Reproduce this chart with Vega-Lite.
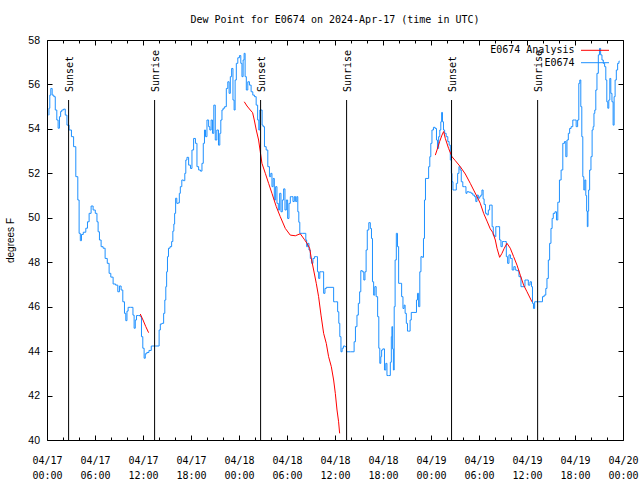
{
"$schema": "https://vega.github.io/schema/vega-lite/v6.json",
"width": 576, "height": 400,
"autosize": {"type": "none"},
"padding": {"left": 47, "top": 40, "right": 17, "bottom": 40},
"title": {"text": "Dew Point for E0674 on 2024-Apr-17 (time in UTC)", "font": "DejaVu Sans Mono", "fontSize": 10, "fontWeight": "normal", "anchor": "middle", "offset": 10, "color": "#000"},
"config": {"view": {"stroke": "#000", "strokeWidth": 1}, "axis": {"domain": false, "grid": false, "tickColor": "#000", "labelColor": "#000", "titleColor": "#000"}},
"datasets": {
"obs": [
{"series":"E0674","hour":0.2,"dewpoint":54.62},{"series":"E0674","hour":0.29,"dewpoint":54.93},{"series":"E0674","hour":0.41,"dewpoint":55.52},{"series":"E0674","hour":0.54,"dewpoint":55.82},{"series":"E0674","hour":0.75,"dewpoint":55.52},{"series":"E0674","hour":0.95,"dewpoint":55.45},{"series":"E0674","hour":1.12,"dewpoint":54.85},{"series":"E0674","hour":1.33,"dewpoint":54.4},{"series":"E0674","hour":1.45,"dewpoint":54.03},{"series":"E0674","hour":1.66,"dewpoint":54.55},{"series":"E0674","hour":1.75,"dewpoint":54.78},{"series":"E0674","hour":1.95,"dewpoint":54.85},{"series":"E0674","hour":2.2,"dewpoint":54.89},{"series":"E0674","hour":2.37,"dewpoint":54.62},{"series":"E0674","hour":2.62,"dewpoint":54.17},{"series":"E0674","hour":2.91,"dewpoint":53.95},{"series":"E0674","hour":3.2,"dewpoint":53.65},{"series":"E0674","hour":3.45,"dewpoint":53.2},{"series":"E0674","hour":3.75,"dewpoint":51.85},{"series":"E0674","hour":3.95,"dewpoint":50.8},{"series":"E0674","hour":4.08,"dewpoint":49.3},{"series":"E0674","hour":4.25,"dewpoint":48.97},{"series":"E0674","hour":4.37,"dewpoint":49.25},{"series":"E0674","hour":4.7,"dewpoint":49.35},{"series":"E0674","hour":5.0,"dewpoint":49.53},{"series":"E0674","hour":5.12,"dewpoint":49.82},{"series":"E0674","hour":5.41,"dewpoint":50.2},{"series":"E0674","hour":5.62,"dewpoint":50.53},{"series":"E0674","hour":5.91,"dewpoint":50.35},{"series":"E0674","hour":6.16,"dewpoint":50.2},{"series":"E0674","hour":6.33,"dewpoint":49.82},{"series":"E0674","hour":6.45,"dewpoint":49.37},{"series":"E0674","hour":6.66,"dewpoint":49.0},{"series":"E0674","hour":6.87,"dewpoint":48.7},{"series":"E0674","hour":7.16,"dewpoint":48.63},{"series":"E0674","hour":7.37,"dewpoint":48.17},{"series":"E0674","hour":7.7,"dewpoint":47.95},{"series":"E0674","hour":7.83,"dewpoint":47.5},{"series":"E0674","hour":8.12,"dewpoint":47.33},{"series":"E0674","hour":8.41,"dewpoint":47.02},{"series":"E0674","hour":8.75,"dewpoint":46.97},{"series":"E0674","hour":8.95,"dewpoint":46.67},{"series":"E0674","hour":9.16,"dewpoint":46.93},{"series":"E0674","hour":9.37,"dewpoint":46.75},{"series":"E0674","hour":9.58,"dewpoint":46.22},{"series":"E0674","hour":9.79,"dewpoint":45.7},{"series":"E0674","hour":9.91,"dewpoint":45.37},{"series":"E0674","hour":10.08,"dewpoint":45.8},{"series":"E0674","hour":10.2,"dewpoint":45.97},{"series":"E0674","hour":10.66,"dewpoint":45.97},{"series":"E0674","hour":10.83,"dewpoint":45.62},{"series":"E0674","hour":10.95,"dewpoint":45.03},{"series":"E0674","hour":11.12,"dewpoint":45.4},{"series":"E0674","hour":11.25,"dewpoint":45.6},{"series":"E0674","hour":11.58,"dewpoint":45.6},{"series":"E0674","hour":11.75,"dewpoint":45.55},{"series":"E0674","hour":11.87,"dewpoint":44.65},{"series":"E0674","hour":12.08,"dewpoint":44.13},{"series":"E0674","hour":12.2,"dewpoint":43.68},{"series":"E0674","hour":12.37,"dewpoint":43.88},{"series":"E0674","hour":12.58,"dewpoint":43.94},{"series":"E0674","hour":12.91,"dewpoint":44.03},{"series":"E0674","hour":13.16,"dewpoint":44.23},{"series":"E0674","hour":13.95,"dewpoint":44.23},{"series":"E0674","hour":14.08,"dewpoint":44.95},{"series":"E0674","hour":14.25,"dewpoint":45.22},{"series":"E0674","hour":14.5,"dewpoint":45.25},{"series":"E0674","hour":14.66,"dewpoint":45.7},{"series":"E0674","hour":14.79,"dewpoint":46.3},{"series":"E0674","hour":14.91,"dewpoint":46.9},{"series":"E0674","hour":15.0,"dewpoint":47.57},{"series":"E0674","hour":15.12,"dewpoint":48.25},{"series":"E0674","hour":15.25,"dewpoint":48.63},{"series":"E0674","hour":15.5,"dewpoint":48.7},{"series":"E0674","hour":15.66,"dewpoint":48.93},{"series":"E0674","hour":15.8,"dewpoint":49.4},{"series":"E0674","hour":15.91,"dewpoint":49.72},{"series":"E0674","hour":16.0,"dewpoint":50.2},{"series":"E0674","hour":16.16,"dewpoint":50.88},{"series":"E0674","hour":16.29,"dewpoint":50.65},{"series":"E0674","hour":16.5,"dewpoint":50.67},{"series":"E0674","hour":16.58,"dewpoint":51.1},{"series":"E0674","hour":16.75,"dewpoint":51.4},{"series":"E0674","hour":16.95,"dewpoint":51.7},{"series":"E0674","hour":17.16,"dewpoint":51.67},{"series":"E0674","hour":17.29,"dewpoint":52.0},{"series":"E0674","hour":17.41,"dewpoint":52.6},{"series":"E0674","hour":17.58,"dewpoint":52.72},{"series":"E0674","hour":17.83,"dewpoint":52.37},{"series":"E0674","hour":18.04,"dewpoint":52.22},{"series":"E0674","hour":18.2,"dewpoint":53.05},{"series":"E0674","hour":18.45,"dewpoint":53.57},{"series":"E0674","hour":18.66,"dewpoint":53.35},{"series":"E0674","hour":18.83,"dewpoint":52.3},{"series":"E0674","hour":19.08,"dewpoint":52.15},{"series":"E0674","hour":19.29,"dewpoint":52.1},{"series":"E0674","hour":19.45,"dewpoint":52.45},{"series":"E0674","hour":19.62,"dewpoint":53.35},{"series":"E0674","hour":19.75,"dewpoint":53.95},{"series":"E0674","hour":19.87,"dewpoint":53.65},{"series":"E0674","hour":20.12,"dewpoint":54.4},{"series":"E0674","hour":20.29,"dewpoint":54.1},{"series":"E0674","hour":20.41,"dewpoint":53.95},{"series":"E0674","hour":20.62,"dewpoint":54.4},{"series":"E0674","hour":20.75,"dewpoint":53.8},{"series":"E0674","hour":20.95,"dewpoint":55.07},{"series":"E0674","hour":21.12,"dewpoint":53.5},{"series":"E0674","hour":21.33,"dewpoint":53.95},{"series":"E0674","hour":21.54,"dewpoint":53.27},{"series":"E0674","hour":21.66,"dewpoint":53.8},{"series":"E0674","hour":21.79,"dewpoint":54.4},{"series":"E0674","hour":21.95,"dewpoint":54.85},{"series":"E0674","hour":22.08,"dewpoint":54.93},{"series":"E0674","hour":22.33,"dewpoint":55.0},{"series":"E0674","hour":22.5,"dewpoint":55.82},{"series":"E0674","hour":22.7,"dewpoint":56.12},{"series":"E0674","hour":22.83,"dewpoint":55.6},{"series":"E0674","hour":23.0,"dewpoint":56.35},{"series":"E0674","hour":23.16,"dewpoint":56.72},{"series":"E0674","hour":23.33,"dewpoint":55.3},{"series":"E0674","hour":23.45,"dewpoint":54.85},{"series":"E0674","hour":23.58,"dewpoint":56.2},{"series":"E0674","hour":23.75,"dewpoint":56.95},{"series":"E0674","hour":23.95,"dewpoint":57.2},{"series":"E0674","hour":24.16,"dewpoint":57.3},{"series":"E0674","hour":24.29,"dewpoint":56.95},{"series":"E0674","hour":24.45,"dewpoint":56.35},{"series":"E0674","hour":24.58,"dewpoint":57.1},{"series":"E0674","hour":24.7,"dewpoint":57.4},{"series":"E0674","hour":24.83,"dewpoint":56.35},{"series":"E0674","hour":25.0,"dewpoint":55.75},{"series":"E0674","hour":25.2,"dewpoint":56.12},{"series":"E0674","hour":25.41,"dewpoint":55.97},{"series":"E0674","hour":25.62,"dewpoint":55.67},{"series":"E0674","hour":25.83,"dewpoint":55.52},{"series":"E0674","hour":26.04,"dewpoint":55.45},{"series":"E0674","hour":26.25,"dewpoint":55.07},{"series":"E0674","hour":26.41,"dewpoint":54.4},{"series":"E0674","hour":26.54,"dewpoint":53.95},{"series":"E0674","hour":26.66,"dewpoint":54.85},{"series":"E0674","hour":26.83,"dewpoint":54.85},{"series":"E0674","hour":26.95,"dewpoint":54.17},{"series":"E0674","hour":27.08,"dewpoint":54.1},{"series":"E0674","hour":27.29,"dewpoint":53.2},{"series":"E0674","hour":27.5,"dewpoint":53.05},{"series":"E0674","hour":27.7,"dewpoint":52.3},{"series":"E0674","hour":27.91,"dewpoint":51.85},{"series":"E0674","hour":28.04,"dewpoint":52.0},{"series":"E0674","hour":28.2,"dewpoint":51.4},{"series":"E0674","hour":28.33,"dewpoint":51.77},{"series":"E0674","hour":28.5,"dewpoint":50.8},{"series":"E0674","hour":28.66,"dewpoint":51.4},{"series":"E0674","hour":28.83,"dewpoint":50.65},{"series":"E0674","hour":29.0,"dewpoint":50.35},{"series":"E0674","hour":29.16,"dewpoint":51.1},{"series":"E0674","hour":29.33,"dewpoint":50.27},{"series":"E0674","hour":29.5,"dewpoint":50.8},{"series":"E0674","hour":29.66,"dewpoint":51.3},{"series":"E0674","hour":29.83,"dewpoint":50.35},{"series":"E0674","hour":30.0,"dewpoint":50.8},{"series":"E0674","hour":30.16,"dewpoint":49.97},{"series":"E0674","hour":30.33,"dewpoint":50.65},{"series":"E0674","hour":30.5,"dewpoint":50.95},{"series":"E0674","hour":30.66,"dewpoint":50.95},{"series":"E0674","hour":30.83,"dewpoint":50.73},{"series":"E0674","hour":31.0,"dewpoint":50.95},{"series":"E0674","hour":31.16,"dewpoint":50.73},{"series":"E0674","hour":31.29,"dewpoint":50.95},{"series":"E0674","hour":31.41,"dewpoint":50.27},{"series":"E0674","hour":31.54,"dewpoint":49.8},{"series":"E0674","hour":31.66,"dewpoint":49.3},{"series":"E0674","hour":32.29,"dewpoint":49.3},{"series":"E0674","hour":32.41,"dewpoint":49.0},{"series":"E0674","hour":32.5,"dewpoint":48.7},{"series":"E0674","hour":32.66,"dewpoint":48.85},{"series":"E0674","hour":32.83,"dewpoint":48.55},{"series":"E0674","hour":33.0,"dewpoint":48.17},{"series":"E0674","hour":33.16,"dewpoint":47.95},{"series":"E0674","hour":33.33,"dewpoint":48.17},{"series":"E0674","hour":33.54,"dewpoint":48.25},{"series":"E0674","hour":33.75,"dewpoint":48.25},{"series":"E0674","hour":33.87,"dewpoint":47.57},{"series":"E0674","hour":34.04,"dewpoint":47.27},{"series":"E0674","hour":34.16,"dewpoint":47.57},{"series":"E0674","hour":34.5,"dewpoint":47.57},{"series":"E0674","hour":34.66,"dewpoint":46.6},{"series":"E0674","hour":34.83,"dewpoint":46.82},{"series":"E0674","hour":35.0,"dewpoint":46.87},{"series":"E0674","hour":35.75,"dewpoint":46.87},{"series":"E0674","hour":35.91,"dewpoint":46.22},{"series":"E0674","hour":36.25,"dewpoint":46.22},{"series":"E0674","hour":36.41,"dewpoint":45.77},{"series":"E0674","hour":36.54,"dewpoint":45.25},{"series":"E0674","hour":36.66,"dewpoint":44.65},{"series":"E0674","hour":36.83,"dewpoint":43.97},{"series":"E0674","hour":36.95,"dewpoint":44.13},{"series":"E0674","hour":37.16,"dewpoint":44.23},{"series":"E0674","hour":37.37,"dewpoint":44.2},{"series":"E0674","hour":37.5,"dewpoint":43.97},{"series":"E0674","hour":38.33,"dewpoint":43.97},{"series":"E0674","hour":38.45,"dewpoint":44.42},{"series":"E0674","hour":38.66,"dewpoint":45.1},{"series":"E0674","hour":38.83,"dewpoint":45.62},{"series":"E0674","hour":39.0,"dewpoint":46.15},{"series":"E0674","hour":39.16,"dewpoint":46.67},{"series":"E0674","hour":39.29,"dewpoint":47.62},{"series":"E0674","hour":39.54,"dewpoint":47.57},{"series":"E0674","hour":39.66,"dewpoint":47.2},{"series":"E0674","hour":39.83,"dewpoint":47.57},{"series":"E0674","hour":39.95,"dewpoint":48.55},{"series":"E0674","hour":40.12,"dewpoint":49.45},{"series":"E0674","hour":40.33,"dewpoint":49.78},{"series":"E0674","hour":40.5,"dewpoint":49.52},{"series":"E0674","hour":40.62,"dewpoint":49.07},{"series":"E0674","hour":40.75,"dewpoint":47.12},{"series":"E0674","hour":40.91,"dewpoint":46.52},{"series":"E0674","hour":41.04,"dewpoint":46.9},{"series":"E0674","hour":41.25,"dewpoint":46.45},{"series":"E0674","hour":41.41,"dewpoint":45.55},{"series":"E0674","hour":41.54,"dewpoint":44.13},{"series":"E0674","hour":41.66,"dewpoint":43.45},{"series":"E0674","hour":41.79,"dewpoint":43.75},{"series":"E0674","hour":41.87,"dewpoint":44.05},{"series":"E0674","hour":42.08,"dewpoint":44.1},{"series":"E0674","hour":42.29,"dewpoint":43.15},{"series":"E0674","hour":42.41,"dewpoint":43.45},{"series":"E0674","hour":42.58,"dewpoint":42.9},{"series":"E0674","hour":42.83,"dewpoint":42.9},{"series":"E0674","hour":43.0,"dewpoint":43.5},{"series":"E0674","hour":43.08,"dewpoint":44.65},{"series":"E0674","hour":43.15,"dewpoint":45.1},{"series":"E0674","hour":43.25,"dewpoint":44.1},{"series":"E0674","hour":43.35,"dewpoint":43.15},{"series":"E0674","hour":43.45,"dewpoint":46.0},{"series":"E0674","hour":43.58,"dewpoint":48.1},{"series":"E0674","hour":43.75,"dewpoint":49.3},{"series":"E0674","hour":43.87,"dewpoint":48.7},{"series":"E0674","hour":44.04,"dewpoint":47.05},{"series":"E0674","hour":44.25,"dewpoint":47.05},{"series":"E0674","hour":44.41,"dewpoint":46.45},{"series":"E0674","hour":44.58,"dewpoint":45.92},{"series":"E0674","hour":44.7,"dewpoint":46.07},{"series":"E0674","hour":44.83,"dewpoint":45.7},{"series":"E0674","hour":45.0,"dewpoint":45.25},{"series":"E0674","hour":45.12,"dewpoint":44.9},{"series":"E0674","hour":45.33,"dewpoint":44.9},{"series":"E0674","hour":45.45,"dewpoint":45.4},{"series":"E0674","hour":45.62,"dewpoint":45.74},{"series":"E0674","hour":46.12,"dewpoint":45.74},{"series":"E0674","hour":46.25,"dewpoint":46.3},{"series":"E0674","hour":46.37,"dewpoint":46.6},{"series":"E0674","hour":46.54,"dewpoint":46.0},{"series":"E0674","hour":46.66,"dewpoint":47.57},{"series":"E0674","hour":46.83,"dewpoint":48.25},{"series":"E0674","hour":47.0,"dewpoint":48.22},{"series":"E0674","hour":47.12,"dewpoint":49.07},{"series":"E0674","hour":47.25,"dewpoint":50.8},{"series":"E0674","hour":47.37,"dewpoint":51.77},{"series":"E0674","hour":47.62,"dewpoint":51.77},{"series":"E0674","hour":47.79,"dewpoint":52.3},{"series":"E0674","hour":47.91,"dewpoint":52.75},{"series":"E0674","hour":48.04,"dewpoint":53.35},{"series":"E0674","hour":48.2,"dewpoint":53.95},{"series":"E0674","hour":48.41,"dewpoint":54.07},{"series":"E0674","hour":48.62,"dewpoint":54.02},{"series":"E0674","hour":48.75,"dewpoint":53.5},{"series":"E0674","hour":48.87,"dewpoint":53.12},{"series":"E0674","hour":49.04,"dewpoint":53.65},{"series":"E0674","hour":49.16,"dewpoint":53.95},{"series":"E0674","hour":49.29,"dewpoint":54.32},{"series":"E0674","hour":49.37,"dewpoint":54.74},{"series":"E0674","hour":49.5,"dewpoint":54.32},{"series":"E0674","hour":49.62,"dewpoint":53.95},{"series":"E0674","hour":49.79,"dewpoint":53.8},{"series":"E0674","hour":50.0,"dewpoint":53.65},{"series":"E0674","hour":50.2,"dewpoint":53.43},{"series":"E0674","hour":50.33,"dewpoint":53.27},{"series":"E0674","hour":50.5,"dewpoint":52.6},{"series":"E0674","hour":50.58,"dewpoint":52.0},{"series":"E0674","hour":50.66,"dewpoint":51.62},{"series":"E0674","hour":50.83,"dewpoint":51.25},{"series":"E0674","hour":51.08,"dewpoint":51.25},{"series":"E0674","hour":51.25,"dewpoint":51.55},{"series":"E0674","hour":51.41,"dewpoint":52.0},{"series":"E0674","hour":51.58,"dewpoint":52.3},{"series":"E0674","hour":51.7,"dewpoint":52.15},{"series":"E0674","hour":51.87,"dewpoint":51.62},{"series":"E0674","hour":52.08,"dewpoint":51.4},{"series":"E0674","hour":52.33,"dewpoint":51.4},{"series":"E0674","hour":52.41,"dewpoint":51.1},{"series":"E0674","hour":52.58,"dewpoint":51.17},{"series":"E0674","hour":52.91,"dewpoint":51.15},{"series":"E0674","hour":53.12,"dewpoint":51.1},{"series":"E0674","hour":53.33,"dewpoint":51.02},{"series":"E0674","hour":53.54,"dewpoint":50.95},{"series":"E0674","hour":53.66,"dewpoint":50.73},{"series":"E0674","hour":53.83,"dewpoint":51.02},{"series":"E0674","hour":54.0,"dewpoint":50.88},{"series":"E0674","hour":54.16,"dewpoint":50.95},{"series":"E0674","hour":54.29,"dewpoint":51.02},{"series":"E0674","hour":54.45,"dewpoint":51.25},{"series":"E0674","hour":54.58,"dewpoint":50.85},{"series":"E0674","hour":54.7,"dewpoint":50.6},{"series":"E0674","hour":54.91,"dewpoint":50.2},{"series":"E0674","hour":55.08,"dewpoint":50.13},{"series":"E0674","hour":55.25,"dewpoint":50.35},{"series":"E0674","hour":55.41,"dewpoint":50.57},{"series":"E0674","hour":55.58,"dewpoint":50.57},{"series":"E0674","hour":55.7,"dewpoint":49.6},{"series":"E0674","hour":55.87,"dewpoint":49.22},{"series":"E0674","hour":56.04,"dewpoint":49.15},{"series":"E0674","hour":56.16,"dewpoint":49.6},{"series":"E0674","hour":56.5,"dewpoint":49.6},{"series":"E0674","hour":56.66,"dewpoint":49.0},{"series":"E0674","hour":56.83,"dewpoint":48.7},{"series":"E0674","hour":57.0,"dewpoint":48.93},{"series":"E0674","hour":57.33,"dewpoint":48.93},{"series":"E0674","hour":57.5,"dewpoint":48.25},{"series":"E0674","hour":57.66,"dewpoint":47.95},{"series":"E0674","hour":57.83,"dewpoint":48.33},{"series":"E0674","hour":58.04,"dewpoint":48.17},{"series":"E0674","hour":58.25,"dewpoint":47.65},{"series":"E0674","hour":58.45,"dewpoint":47.8},{"series":"E0674","hour":58.62,"dewpoint":47.65},{"series":"E0674","hour":58.83,"dewpoint":47.62},{"series":"E0674","hour":59.16,"dewpoint":47.35},{"series":"E0674","hour":59.33,"dewpoint":46.9},{"series":"E0674","hour":59.66,"dewpoint":46.9},{"series":"E0674","hour":59.83,"dewpoint":47.2},{"series":"E0674","hour":60.08,"dewpoint":47.2},{"series":"E0674","hour":60.25,"dewpoint":46.97},{"series":"E0674","hour":60.5,"dewpoint":47.12},{"series":"E0674","hour":60.62,"dewpoint":46.9},{"series":"E0674","hour":60.75,"dewpoint":46.15},{"series":"E0674","hour":60.87,"dewpoint":45.92},{"series":"E0674","hour":61.04,"dewpoint":46.22},{"series":"E0674","hour":61.87,"dewpoint":46.22},{"series":"E0674","hour":62.0,"dewpoint":46.45},{"series":"E0674","hour":62.29,"dewpoint":46.52},{"series":"E0674","hour":62.41,"dewpoint":46.82},{"series":"E0674","hour":62.58,"dewpoint":47.27},{"series":"E0674","hour":62.75,"dewpoint":48.1},{"series":"E0674","hour":62.91,"dewpoint":48.85},{"series":"E0674","hour":63.08,"dewpoint":49.52},{"series":"E0674","hour":63.2,"dewpoint":49.97},{"series":"E0674","hour":63.37,"dewpoint":50.2},{"series":"E0674","hour":63.62,"dewpoint":50.27},{"series":"E0674","hour":63.75,"dewpoint":49.9},{"series":"E0674","hour":63.95,"dewpoint":50.7},{"series":"E0674","hour":64.16,"dewpoint":51.7},{"series":"E0674","hour":64.37,"dewpoint":52.15},{"series":"E0674","hour":64.58,"dewpoint":53.35},{"series":"E0674","hour":64.79,"dewpoint":53.43},{"series":"E0674","hour":64.91,"dewpoint":52.75},{"series":"E0674","hour":65.08,"dewpoint":53.5},{"series":"E0674","hour":65.25,"dewpoint":53.8},{"series":"E0674","hour":65.41,"dewpoint":54.02},{"series":"E0674","hour":65.62,"dewpoint":54.1},{"series":"E0674","hour":65.83,"dewpoint":54.4},{"series":"E0674","hour":66.04,"dewpoint":54.4},{"series":"E0674","hour":66.25,"dewpoint":54.1},{"series":"E0674","hour":66.41,"dewpoint":54.4},{"series":"E0674","hour":66.54,"dewpoint":56.05},{"series":"E0674","hour":66.66,"dewpoint":56.2},{"series":"E0674","hour":66.79,"dewpoint":55.0},{"series":"E0674","hour":66.91,"dewpoint":53.65},{"series":"E0674","hour":67.04,"dewpoint":51.85},{"series":"E0674","hour":67.16,"dewpoint":51.25},{"series":"E0674","hour":67.29,"dewpoint":51.7},{"series":"E0674","hour":67.41,"dewpoint":51.0},{"series":"E0674","hour":67.5,"dewpoint":50.3},{"series":"E0674","hour":67.58,"dewpoint":49.6},{"series":"E0674","hour":67.66,"dewpoint":50.3},{"series":"E0674","hour":67.75,"dewpoint":51.25},{"series":"E0674","hour":67.91,"dewpoint":52.15},{"series":"E0674","hour":68.08,"dewpoint":52.75},{"series":"E0674","hour":68.2,"dewpoint":53.95},{"series":"E0674","hour":68.33,"dewpoint":54.1},{"series":"E0674","hour":68.41,"dewpoint":54.7},{"series":"E0674","hour":68.54,"dewpoint":54.85},{"series":"E0674","hour":68.66,"dewpoint":55.75},{"series":"E0674","hour":68.83,"dewpoint":56.5},{"series":"E0674","hour":69.0,"dewpoint":57.33},{"series":"E0674","hour":69.12,"dewpoint":57.62},{"series":"E0674","hour":69.29,"dewpoint":57.33},{"series":"E0674","hour":69.45,"dewpoint":57.1},{"series":"E0674","hour":69.62,"dewpoint":56.95},{"series":"E0674","hour":69.79,"dewpoint":56.8},{"series":"E0674","hour":69.91,"dewpoint":56.2},{"series":"E0674","hour":70.04,"dewpoint":55.22},{"series":"E0674","hour":70.16,"dewpoint":54.93},{"series":"E0674","hour":70.29,"dewpoint":55.3},{"series":"E0674","hour":70.41,"dewpoint":56.27},{"series":"E0674","hour":70.54,"dewpoint":55.6},{"series":"E0674","hour":70.7,"dewpoint":55.22},{"series":"E0674","hour":70.83,"dewpoint":54.17},{"series":"E0674","hour":70.95,"dewpoint":55.45},{"series":"E0674","hour":71.08,"dewpoint":56.2},{"series":"E0674","hour":71.25,"dewpoint":56.65},{"series":"E0674","hour":71.41,"dewpoint":56.95},{"series":"E0674","hour":71.58,"dewpoint":57.05}
],
"ana": [
{"series":"E0674 Analysis","seg":1,"hour":11.66,"dewpoint":45.67},{"series":"E0674 Analysis","seg":1,"hour":12.0,"dewpoint":45.4},{"series":"E0674 Analysis","seg":1,"hour":12.35,"dewpoint":45.1},{"series":"E0674 Analysis","seg":1,"hour":12.7,"dewpoint":44.83},
{"series":"E0674 Analysis","seg":2,"hour":24.66,"dewpoint":55.22},{"series":"E0674 Analysis","seg":2,"hour":25.0,"dewpoint":55.03},{"series":"E0674 Analysis","seg":2,"hour":25.41,"dewpoint":54.85},{"series":"E0674 Analysis","seg":2,"hour":25.7,"dewpoint":54.73},{"series":"E0674 Analysis","seg":2,"hour":25.91,"dewpoint":54.4},{"series":"E0674 Analysis","seg":2,"hour":26.16,"dewpoint":53.95},{"series":"E0674 Analysis","seg":2,"hour":26.45,"dewpoint":53.5},{"series":"E0674 Analysis","seg":2,"hour":26.66,"dewpoint":52.97},{"series":"E0674 Analysis","seg":2,"hour":26.87,"dewpoint":52.45},{"series":"E0674 Analysis","seg":2,"hour":27.29,"dewpoint":52.0},{"series":"E0674 Analysis","seg":2,"hour":27.7,"dewpoint":51.55},{"series":"E0674 Analysis","seg":2,"hour":28.12,"dewpoint":51.1},{"series":"E0674 Analysis","seg":2,"hour":28.66,"dewpoint":50.5},{"series":"E0674 Analysis","seg":2,"hour":29.16,"dewpoint":50.05},{"series":"E0674 Analysis","seg":2,"hour":29.79,"dewpoint":49.52},{"series":"E0674 Analysis","seg":2,"hour":30.41,"dewpoint":49.22},{"series":"E0674 Analysis","seg":2,"hour":31.04,"dewpoint":49.19},{"series":"E0674 Analysis","seg":2,"hour":31.66,"dewpoint":49.28},{"series":"E0674 Analysis","seg":2,"hour":32.16,"dewpoint":49.03},{"series":"E0674 Analysis","seg":2,"hour":32.5,"dewpoint":48.85},{"series":"E0674 Analysis","seg":2,"hour":32.83,"dewpoint":48.63},{"series":"E0674 Analysis","seg":2,"hour":33.04,"dewpoint":48.17},{"series":"E0674 Analysis","seg":2,"hour":33.33,"dewpoint":47.65},{"series":"E0674 Analysis","seg":2,"hour":33.66,"dewpoint":47.05},{"series":"E0674 Analysis","seg":2,"hour":33.95,"dewpoint":46.45},{"series":"E0674 Analysis","seg":2,"hour":34.25,"dewpoint":45.62},{"series":"E0674 Analysis","seg":2,"hour":34.58,"dewpoint":44.8},{"series":"E0674 Analysis","seg":2,"hour":34.91,"dewpoint":44.35},{"series":"E0674 Analysis","seg":2,"hour":35.2,"dewpoint":43.75},{"series":"E0674 Analysis","seg":2,"hour":35.54,"dewpoint":43.3},{"series":"E0674 Analysis","seg":2,"hour":35.83,"dewpoint":42.7},{"series":"E0674 Analysis","seg":2,"hour":36.04,"dewpoint":42.1},{"series":"E0674 Analysis","seg":2,"hour":36.25,"dewpoint":41.35},{"series":"E0674 Analysis","seg":2,"hour":36.45,"dewpoint":40.82},{"series":"E0674 Analysis","seg":2,"hour":36.58,"dewpoint":40.3},
{"series":"E0674 Analysis","seg":3,"hour":48.54,"dewpoint":52.82},{"series":"E0674 Analysis","seg":3,"hour":48.75,"dewpoint":53.05},{"series":"E0674 Analysis","seg":3,"hour":49.08,"dewpoint":53.43},{"series":"E0674 Analysis","seg":3,"hour":49.37,"dewpoint":53.72},{"series":"E0674 Analysis","seg":3,"hour":49.58,"dewpoint":53.88},{"series":"E0674 Analysis","seg":3,"hour":49.79,"dewpoint":53.57},{"series":"E0674 Analysis","seg":3,"hour":50.2,"dewpoint":53.12},{"series":"E0674 Analysis","seg":3,"hour":50.62,"dewpoint":52.75},{"series":"E0674 Analysis","seg":3,"hour":51.04,"dewpoint":52.57},{"series":"E0674 Analysis","seg":3,"hour":51.66,"dewpoint":52.3},{"series":"E0674 Analysis","seg":3,"hour":52.29,"dewpoint":51.97},{"series":"E0674 Analysis","seg":3,"hour":52.91,"dewpoint":51.55},{"series":"E0674 Analysis","seg":3,"hour":53.33,"dewpoint":51.25},{"series":"E0674 Analysis","seg":3,"hour":53.75,"dewpoint":50.95},{"series":"E0674 Analysis","seg":3,"hour":54.16,"dewpoint":50.65},{"series":"E0674 Analysis","seg":3,"hour":54.58,"dewpoint":50.2},{"series":"E0674 Analysis","seg":3,"hour":55.0,"dewpoint":49.85},{"series":"E0674 Analysis","seg":3,"hour":55.41,"dewpoint":49.5},{"series":"E0674 Analysis","seg":3,"hour":55.7,"dewpoint":49.35},{"series":"E0674 Analysis","seg":3,"hour":56.04,"dewpoint":49.0},{"series":"E0674 Analysis","seg":3,"hour":56.25,"dewpoint":48.63},{"series":"E0674 Analysis","seg":3,"hour":56.58,"dewpoint":48.22},{"series":"E0674 Analysis","seg":3,"hour":56.87,"dewpoint":48.4},{"series":"E0674 Analysis","seg":3,"hour":57.16,"dewpoint":48.63},{"series":"E0674 Analysis","seg":3,"hour":57.5,"dewpoint":48.85},{"series":"E0674 Analysis","seg":3,"hour":57.91,"dewpoint":48.63},{"series":"E0674 Analysis","seg":3,"hour":58.33,"dewpoint":48.25},{"series":"E0674 Analysis","seg":3,"hour":58.75,"dewpoint":47.87},{"series":"E0674 Analysis","seg":3,"hour":59.16,"dewpoint":47.42},{"series":"E0674 Analysis","seg":3,"hour":59.58,"dewpoint":46.97},{"series":"E0674 Analysis","seg":3,"hour":60.0,"dewpoint":46.67},{"series":"E0674 Analysis","seg":3,"hour":60.62,"dewpoint":46.22}
],
"sun": [
{"hour":2.7,"event":"Sunset"},{"hour":13.45,"event":"Sunrise"},{"hour":26.7,"event":"Sunset"},{"hour":37.45,"event":"Sunrise"},{"hour":50.57,"event":"Sunset"},{"hour":61.33,"event":"Sunrise"}
]
},
"resolve": {"axis": {"x": "independent", "y": "independent"}},
"layer": [
{
"data": {"name": "obs"},
"mark": {"type": "line", "interpolate": "step", "strokeWidth": 1, "clip": true},
"encoding": {
"x": {"field": "hour", "type": "quantitative", "scale": {"domain": [0, 72], "nice": false, "zero": false},
 "axis": {"orient": "bottom", "title": null, "values": [0,2,4,6,8,10,12,14,16,18,20,22,24,26,28,30,32,34,36,38,40,42,44,46,48,50,52,54,56,58,60,62,64,66,68,70,72],
 "labelExpr": "datum.value % 6 == 0 ? ['04/' + (17 + floor(datum.value / 24)), (datum.value % 24 < 10 ? '0' : '') + (datum.value % 24) + ':00'] : ''",
 "tickSize": {"condition": {"test": "datum.value % 6 == 0", "value": -5}, "value": -3},
 "labelFont": "DejaVu Sans Mono", "labelFontSize": 10, "labelBaseline": "top", "labelPadding": 20.5, "labelLineHeight": 14.5, "labelOverlap": false, "labelFlush": false, "labelBound": false}},
"y": {"field": "dewpoint", "type": "quantitative", "scale": {"domain": [40, 58], "nice": false, "zero": false},
 "axis": {"orient": "left", "values": [40,42,44,46,48,50,52,54,56,58], "tickSize": -5, "labelFont": "Liberation Sans", "labelFontSize": 10.5, "labelPadding": 12.5,
 "title": "degrees F", "titleFont": "Liberation Sans", "titleFontSize": 10, "titleFontWeight": "normal", "titlePadding": 12}},
"color": {"field": "series", "type": "nominal", "scale": {"domain": ["E0674 Analysis", "E0674"], "range": ["#ff0000", "#1e90ff"]},
 "legend": {"orient": "none", "legendX": 543, "legendY": 5.3, "title": null, "symbolType": "M-14,0H14", "symbolSize": 4, "symbolStrokeWidth": 1, "labelFont": "DejaVu Sans Mono", "labelFontSize": 10, "labelColor": "#000", "labelAlign": "right", "labelOffset": -25.5, "rowPadding": 2.4, "padding": 0}}
}
},
{
"data": {"name": "ana"},
"mark": {"type": "line", "strokeWidth": 1, "clip": true},
"encoding": {
"x": {"field": "hour", "type": "quantitative", "scale": {"domain": [0, 72], "nice": false, "zero": false},
 "axis": {"orient": "top", "title": null, "labels": false, "values": [0,2,4,6,8,10,12,14,16,18,20,22,24,26,28,30,32,34,36,38,40,42,44,46,48,50,52,54,56,58,60,62,64,66,68,70,72],
 "tickSize": {"condition": {"test": "datum.value % 6 == 0", "value": -5}, "value": -3}}},
"y": {"field": "dewpoint", "type": "quantitative", "scale": {"domain": [40, 58], "nice": false, "zero": false},
 "axis": {"orient": "right", "title": null, "labels": false, "values": [40,42,44,46,48,50,52,54,56,58], "tickSize": -5}},
"detail": {"field": "seg", "type": "nominal"},
"color": {"field": "series", "type": "nominal"}
}
},
{
"data": {"name": "sun"},
"mark": {"type": "rule", "color": "#000", "strokeWidth": 1},
"encoding": {
"x": {"field": "hour", "type": "quantitative", "axis": null},
"y": {"datum": 55.3, "type": "quantitative", "axis": null},
"y2": {"datum": 40}
}
},
{
"data": {"name": "sun"},
"mark": {"type": "text", "angle": 270, "align": "left", "baseline": "middle", "dy": 1.5, "font": "DejaVu Sans Mono", "fontSize": 10, "color": "#000"},
"encoding": {
"x": {"field": "hour", "type": "quantitative", "axis": null},
"y": {"datum": 55.66, "type": "quantitative", "axis": null},
"text": {"field": "event"}
}
}
]
}
